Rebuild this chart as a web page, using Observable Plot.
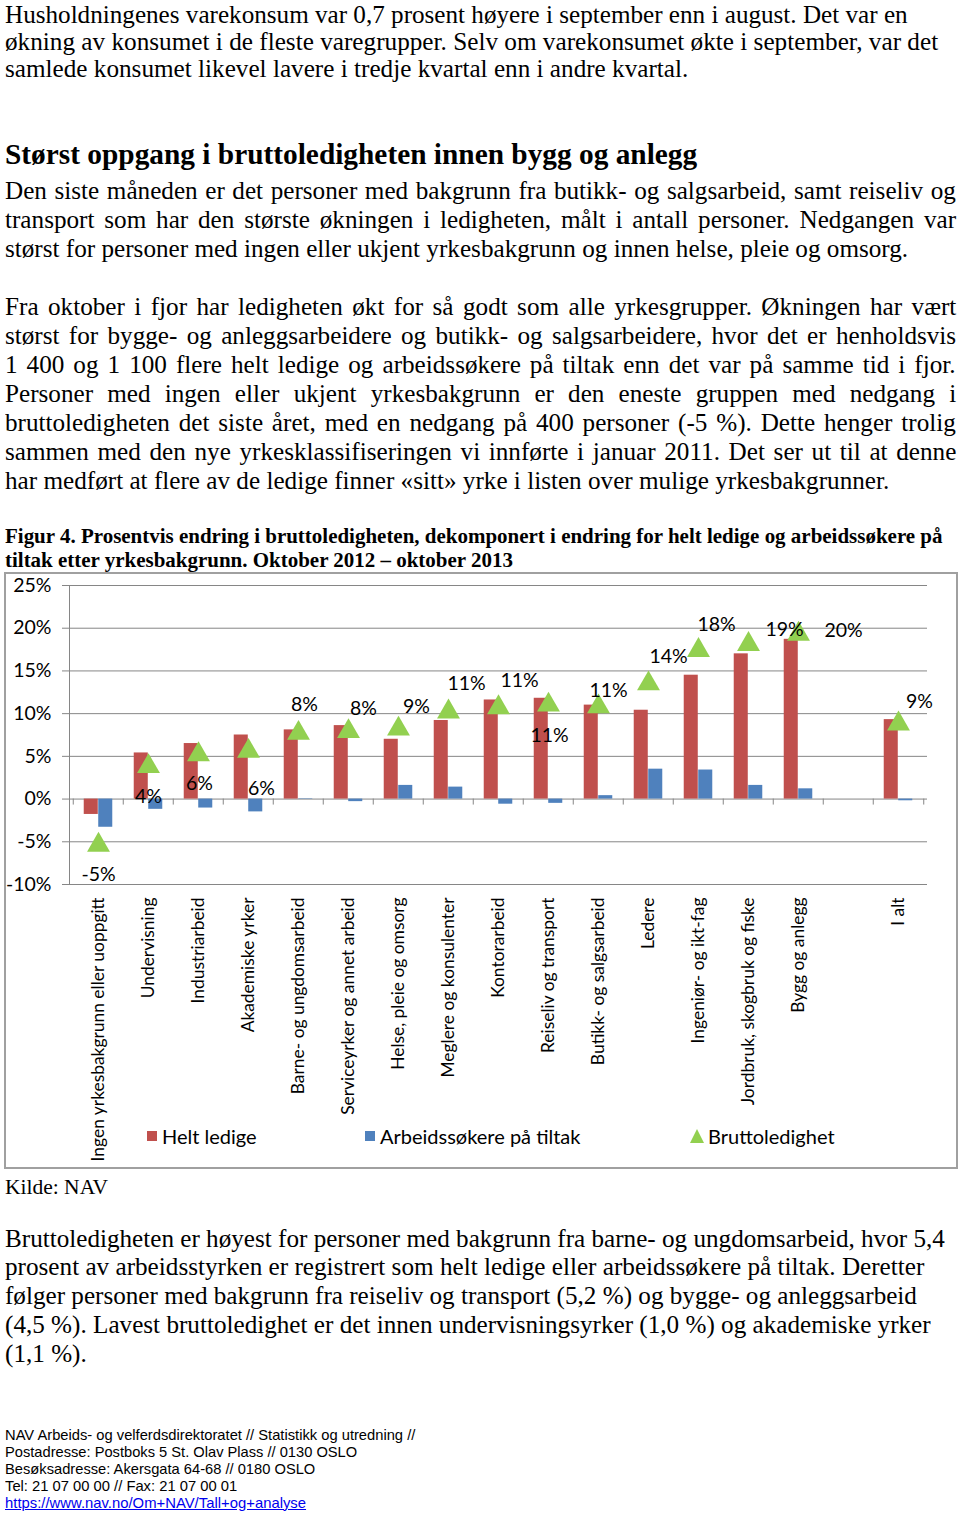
<!DOCTYPE html>
<html>
<head>
<meta charset="utf-8">
<script src="https://cdn.jsdelivr.net/npm/d3@7"></script>
<script src="https://cdn.jsdelivr.net/npm/@observablehq/plot@0.6"></script>
<style>
  html, body { margin: 0; padding: 0; background: #fff; }
  body { width: 960px; height: 1516px; position: relative; overflow: hidden; color: #000; }
  .ln { position: absolute; left: 5px; white-space: pre; transform-origin: 0 0; }
  #box { position: absolute; left: 5px; top: 573px; width: 952px; height: 595px; }
  #box .frame { position: absolute; left: -1px; top: -1px; right: -1px; bottom: -1px; border: 2px solid #a0a0a0; pointer-events: none; }
  #box svg { position: absolute; left: 0; top: 0; }
  .leg { position: absolute; top: 552px; height: 22px; display: flex; align-items: center; font-family: Lato, sans-serif; font-size: 20px; white-space: pre; }
  .sw { width: 10px; height: 10px; margin-right: 5px; }
</style>
</head>
<body>
<div id="box"><div class="frame"></div></div>
<script>
// ---------------- data ----------------
const categories = [
  "Ingen yrkesbakgrunn eller uoppgitt", "Undervisning", "Industriarbeid", "Akademiske yrker",
  "Barne- og ungdomsarbeid", "Serviceyrker og annet arbeid", "Helse, pleie og omsorg",
  "Meglere og konsulenter", "Kontorarbeid", "Reiseliv og transport", "Butikk- og salgsarbeid",
  "Ledere", "Ingeniør- og ikt-fag", "Jordbruk, skogbruk og fiske", "Bygg og anlegg", "I alt"
];
const heltLedige = [-1.8, 5.4, 6.5, 7.5, 8.1, 8.6, 7.0, 9.2, 11.6, 11.8, 11.0, 10.4, 14.5, 17.0, 18.7, 9.3];
const arbeidssokerePaTiltak = [-3.3, -1.2, -1.05, -1.5, -0.05, -0.3, 1.6, 1.4, -0.6, -0.5, 0.4, 3.5, 3.4, 1.6, 1.2, -0.2];
const bruttoledighet = [-5.0, 4.2, 5.6, 6.0, 8.1, 8.3, 8.6, 10.6, 11.1, 11.4, 11.2, 13.9, 17.8, 18.5, 19.7, 9.2];
const yTicks = [-10, -5, 0, 5, 10, 15, 20, 25];
const seriesNames = ["Helt ledige", "Arbeidssøkere på tiltak", "Bruttoledighet"];

// ---------------- text of the page ----------------
const SERIF = "'Liberation Serif', 'Times New Roman', serif";
const SANS = "'Liberation Sans', Arial, sans-serif";
const textLines = [
  // [text, baseline, targetWidth, justify, style]
  ["Husholdningenes varekonsum var 0,7 prosent høyere i september enn i august. Det var en", 23.5, 903, false, "body"],
  ["økning av konsumet i de fleste varegrupper. Selv om varekonsumet økte i september, var det", 50.5, 933, false, "body"],
  ["samlede konsumet likevel lavere i tredje kvartal enn i andre kvartal.", 78, 683, false, "body"],
  ["Størst oppgang i bruttoledigheten innen bygg og anlegg", 164, 692, false, "head"],
  ["Den siste måneden er det personer med bakgrunn fra butikk- og salgsarbeid, samt reiseliv og", 200, 951, true, "body"],
  ["transport som har den største økningen i ledigheten, målt i antall personer. Nedgangen var", 229, 951, true, "body"],
  ["størst for personer med ingen eller ukjent yrkesbakgrunn og innen helse, pleie og omsorg.", 258, 903, false, "body"],
  ["Fra oktober i fjor har ledigheten økt for så godt som alle yrkesgrupper. Økningen har vært", 316, 951, true, "body"],
  ["størst for bygge- og anleggsarbeidere og butikk- og salgsarbeidere, hvor det er henholdsvis", 345, 951, true, "body"],
  ["1 400 og 1 100 flere helt ledige og arbeidssøkere på tiltak enn det var på samme tid i fjor.", 374, 951, true, "body"],
  ["Personer med ingen eller ukjent yrkesbakgrunn er den eneste gruppen med nedgang i", 403, 951, true, "body"],
  ["bruttoledigheten det siste året, med en nedgang på 400 personer (-5 %). Dette henger trolig", 432, 951, true, "body"],
  ["sammen med den nye yrkesklassifiseringen vi innførte i januar 2011. Det ser ut til at denne", 461, 951, true, "body"],
  ["har medført at flere av de ledige finner «sitt» yrke i listen over mulige yrkesbakgrunner.", 490, 884, false, "body"],
  ["Figur 4. Prosentvis endring i bruttoledigheten, dekomponert i endring for helt ledige og arbeidssøkere på", 544, 938, false, "cap"],
  ["tiltak etter yrkesbakgrunn. Oktober 2012 – oktober 2013", 568, 508, false, "cap"],
  ["Kilde: NAV", 1194, 103, false, "src"],
  ["Bruttoledigheten er høyest for personer med bakgrunn fra barne- og ungdomsarbeid, hvor 5,4", 1248, 940, false, "body"],
  ["prosent av arbeidsstyrken er registrert som helt ledige eller arbeidssøkere på tiltak. Deretter", 1276, 919, false, "body"],
  ["følger personer med bakgrunn fra reiseliv og transport (5,2 %) og bygge- og anleggsarbeid", 1305, 912, false, "body"],
  ["(4,5 %). Lavest bruttoledighet er det innen undervisningsyrker (1,0 %) og akademiske yrker", 1334, 926, false, "body"],
  ["(1,1 %).", 1363, null, false, "body"],
  ["NAV Arbeids- og velferdsdirektoratet // Statistikk og utredning //", 1440, 410, false, "foot"],
  ["Postadresse: Postboks 5 St. Olav Plass // 0130 OSLO", 1457, 352, false, "foot"],
  ["Besøksadresse: Akersgata 64-68 // 0180 OSLO", 1474, 310, false, "foot"],
  ["Tel: 21 07 00 00 // Fax: 21 07 00 01", 1491, 232, false, "foot"],
  ["https://www.nav.no/Om+NAV/Tall+og+analyse", 1508, 301, false, "link"]
];
// mid: (ascent - descent) / 2 of the face, used to place the baseline inside a line box
const styles = {
  body: {size: 26, weight: "normal", family: SERIF, mid: 0.3375},
  head: {size: 28.5, weight: "bold", family: SERIF, mid: 0.3375},
  cap: {size: 22, weight: "bold", family: SERIF, mid: 0.3375},
  src: {size: 21.5, weight: "normal", family: SERIF, mid: 0.3375},
  foot: {size: 14.5, weight: "normal", family: SANS, mid: 0.3465},
  link: {size: 14.5, weight: "normal", family: SANS, mid: 0.3465, color: "#0000ee", underline: true}
};
const LH = 0.75;

const made = textLines.map(([text, base, target, justify, st]) => {
  const s = styles[st];
  const el = document.createElement("div");
  el.className = "ln";
  el.textContent = text;
  el.style.fontSize = s.size + "px";
  el.style.lineHeight = LH;
  el.style.fontWeight = s.weight;
  el.style.fontFamily = s.family;
  el.style.top = (base - (LH / 2 + s.mid) * s.size) + "px";
  if (s.color) el.style.color = s.color;
  if (s.underline) el.style.textDecoration = "underline";
  document.body.appendChild(el);
  return {el, text, target, justify, st, natural: el.offsetWidth};
});
// common horizontal squeeze of the body typeface, from the lines that are not justified
const bodyScales = made.filter(m => m.st === "body" && !m.justify && m.target).map(m => m.target / m.natural);
const bodyScale = d3.mean(bodyScales);
for (const m of made) {
  let sx;
  if (!m.target) sx = m.st === "body" ? bodyScale : 1;
  else if (m.justify) {
    sx = bodyScale;
    const spaces = (m.text.match(/ /g) || []).length;
    const extra = m.target / sx - m.natural;
    m.el.style.wordSpacing = (extra / spaces) + "px";
  } else sx = m.target / m.natural;
  m.el.style.transform = `scaleX(${sx})`;
}

// ---------------- chart ----------------
const W = 952, H = 595;
const mL = 64, mR = 30, mT = 12, mB = 284;
const xDomain = [...categories.slice(0, 15), "", categories[15]];
const bw = (W - mL - mR) / xDomain.length;
const barW = 14.5;
const table = categories.map((c, i) => ({
  cat: c, helt: heltLedige[i], tiltak: arbeidssokerePaTiltak[i], brutto: bruttoledighet[i]
}));
const colors = {helt: "#C0504D", tiltak: "#4F81BD", brutto: "#92D050"};
const grid = "#868686";

// label offsets (pixels) of the Bruttoledighet data labels, as placed in the original
const labelDx = [0, 0, 1, 13, 6, 15, 18, 18, 21, 1, 10, 20, 18, 36, 45, 21];
const labelDy = [33, 34, 33, 41, -25, -19, -19, -25, -23, 34, -13, -24, -22, -11, 0, -19];

const chart = Plot.plot({
  width: W, height: H,
  marginLeft: mL, marginRight: mR, marginTop: mT, marginBottom: mB,
  style: {fontFamily: "Lato, sans-serif", fontSize: "19px", color: "#000", background: "transparent"},
  x: {type: "band", domain: xDomain, padding: 0},
  y: {domain: [-10, 25]},
  marks: [
    Plot.gridY(yTicks, {stroke: grid, strokeOpacity: 1, strokeWidth: 1}),
    Plot.frame({anchor: "left", stroke: grid}),
    Plot.ruleX(xDomain, {x: d => d, y1: 0, y2: 0, dx: -bw / 2, insetBottom: -6, stroke: grid}),
    Plot.ruleX([xDomain[xDomain.length - 1]], {x: d => d, y1: 0, y2: 0, dx: bw / 2, insetBottom: -6, stroke: grid}),
    Plot.barY(table, {x: "cat", y: "helt", fill: colors.helt, insetLeft: bw / 2 - barW, insetRight: bw / 2}),
    Plot.barY(table, {x: "cat", y: "tiltak", fill: colors.tiltak, insetLeft: bw / 2, insetRight: bw / 2 - barW}),
    Plot.dot(table, {x: "cat", y: "brutto", symbol: "triangle", r: 8.5, fill: colors.brutto, stroke: "none", dy: 3.3}),
    ...table.map((d, i) => Plot.text([d], {
      x: "cat", y: "brutto", text: r => Math.round(r.brutto) + "%",
      dx: labelDx[i], dy: labelDy[i], fontSize: 19.5, fill: "#000"
    })),
    Plot.axisY(yTicks, {tickFormat: d => d + "%", tickSize: 7, tickPadding: 11, stroke: grid, fill: "#000", fontSize: 19.5, label: null}),
    Plot.axisX({tickRotate: -90, tickSize: 0, tickPadding: 13, fill: "#000", fontSize: 17.4, label: null})
  ]
});
const box = document.getElementById("box");
box.insertBefore(chart, box.firstChild);

// legend
const legendItems = [
  {name: seriesNames[0], color: colors.helt, left: 142, shape: "square"},
  {name: seriesNames[1], color: colors.tiltak, left: 360, shape: "square"},
  {name: seriesNames[2], color: colors.brutto, left: 685, shape: "triangle"}
];
for (const it of legendItems) {
  const d = document.createElement("div");
  d.className = "leg";
  d.style.left = it.left + "px";
  const sw = document.createElement("span");
  if (it.shape === "square") {
    sw.className = "sw";
    sw.style.background = it.color;
  } else {
    sw.style.cssText = `width:0;height:0;border-left:7px solid transparent;border-right:7px solid transparent;border-bottom:14px solid ${it.color};margin-right:4px;`;
  }
  d.appendChild(sw);
  const t = document.createElement("span");
  t.textContent = it.name;
  d.appendChild(t);
  box.appendChild(d);
}
</script>
</body>
</html>
